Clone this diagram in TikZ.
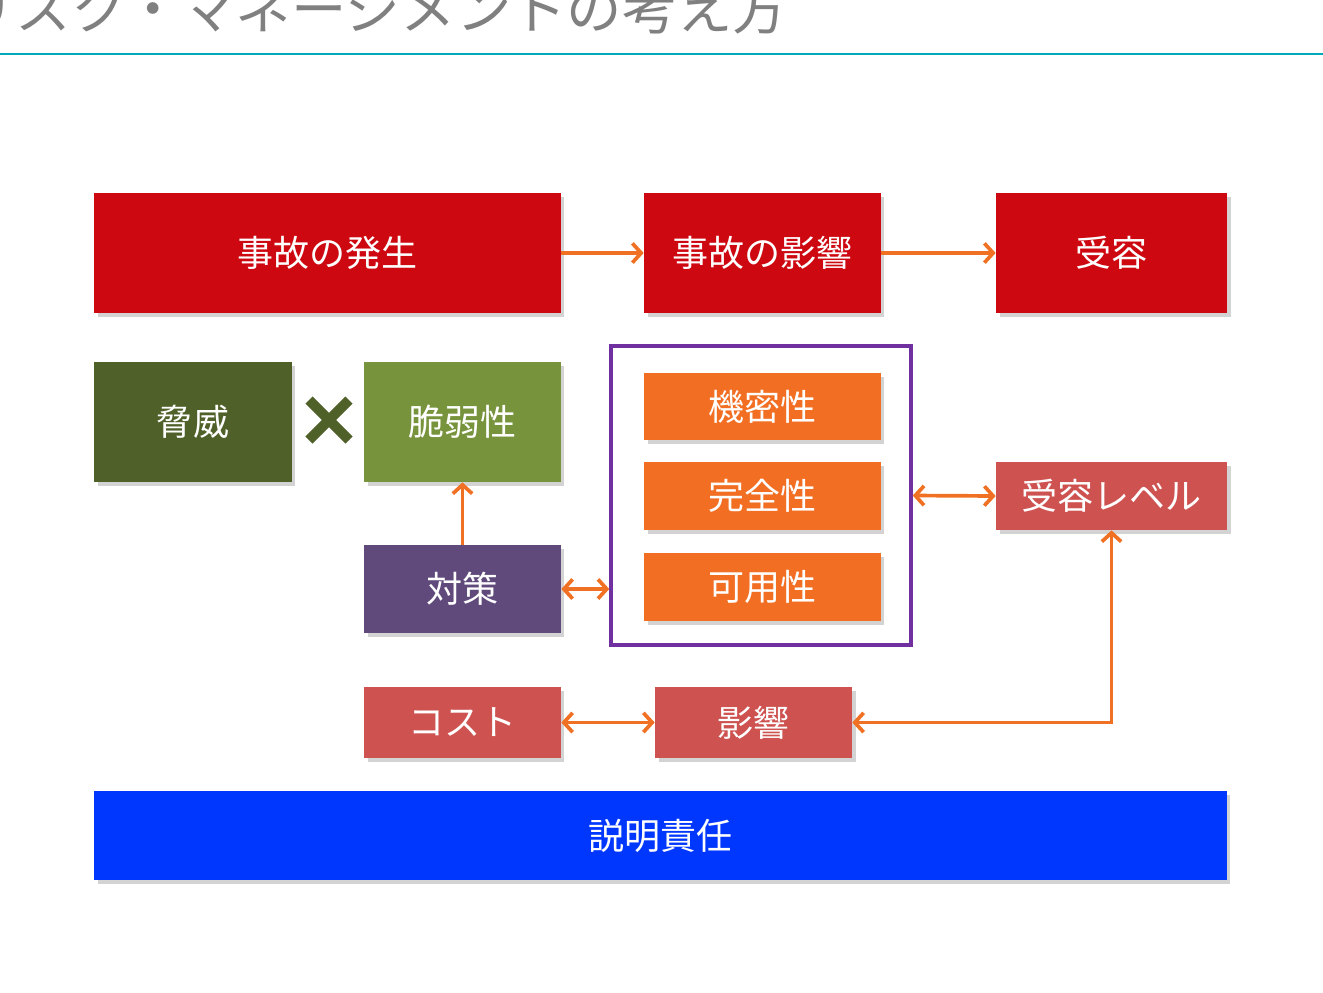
\documentclass[tikz,border=0pt]{standalone}
\usepackage{fontspec}
\setmainfont{Noto Sans CJK JP}
\usetikzlibrary{arrows.meta,shadows}

\definecolor{jikored}{HTML}{CE0810}
\definecolor{kyouiolive}{HTML}{4F6128}
\definecolor{zeijakugreen}{HTML}{77933C}
\definecolor{taisakupurple}{HTML}{604A7B}
\definecolor{ciaorange}{HTML}{F26E22}
\definecolor{levelred}{HTML}{CD5250}
\definecolor{setsumeiblue}{HTML}{0037FF}
\definecolor{framepurple}{HTML}{7030A0}
\definecolor{titleteal}{HTML}{00A9B8}
\definecolor{arroworange}{HTML}{F07024}

\tikzset{
  blk/.style={rectangle, inner sep=0pt, text=white, font=\fontsize{20.5pt}{24pt}\selectfont,
    drop shadow={shadow xshift=2pt, shadow yshift=-2pt, opacity=0.35}},
  conn/.style={draw=arroworange, line width=2.1pt, -{Straight Barb[length=5pt,width=11pt]}},
  connboth/.style={conn, {Straight Barb[length=5pt,width=11pt]}-{Straight Barb[length=5pt,width=11pt]}}
}

\begin{document}
\begin{tikzpicture}[x=0.02cm,y=-0.02cm]
\useasboundingbox (0,0) rectangle (1323,992);
\begin{scope}
\clip (0,0) rectangle (1323,992);
\node[anchor=base west, inner sep=0pt, text=gray, font=\fontsize{31.5pt}{34pt}\selectfont] (title) at (-40,29) {リスク・マネージメントの考え方};
\end{scope}
\draw[titleteal, line width=1.2pt] (0,54) -- (1323,54);

% top row
\node[blk, fill=jikored, minimum width=9.34cm, minimum height=2.4cm] (hassei) at (327.5,253) {事故の発生};
\node[blk, fill=jikored, minimum width=4.74cm, minimum height=2.4cm] (eikyou) at (762.5,253) {事故の影響};
\node[blk, fill=jikored, minimum width=4.62cm, minimum height=2.4cm] (juyou) at (1111.5,253) {受容};
\draw[conn] (hassei) -- (eikyou);
\draw[conn] (eikyou) -- (juyou);

% threat x vulnerability
\node[blk, fill=kyouiolive, minimum width=3.96cm, minimum height=2.4cm] (kyoui) at (193,422) {脅威};
\node[blk, fill=zeijakugreen, minimum width=3.94cm, minimum height=2.4cm] (zeijaku) at (462.5,422) {脆弱性};
\draw[kyouiolive, line width=0.2cm, drop shadow={shadow xshift=2pt, shadow yshift=-2pt, opacity=0.35}] (309,400) -- (349,440) (349,400) -- (309,440);
\node[blk, fill=taisakupurple, minimum width=3.94cm, minimum height=1.76cm] (taisaku) at (462.5,589) {対策};
\draw[conn] (taisaku) -- (zeijaku);

% CIA
\node[draw=framepurple, line width=2pt, minimum width=6cm, minimum height=5.98cm] (cia) at (761,495.5) {};
\node[blk, fill=ciaorange, minimum width=4.74cm, minimum height=1.34cm] (kimitsu) at (762.5,406.5) {機密性};
\node[blk, fill=ciaorange, minimum width=4.74cm, minimum height=1.36cm] (kanzen) at (762.5,496) {完全性};
\node[blk, fill=ciaorange, minimum width=4.74cm, minimum height=1.36cm] (kayou) at (762.5,587) {可用性};
\draw[connboth] (taisaku.east) -- (taisaku.east -| cia.west);

\node[blk, fill=levelred, minimum width=4.62cm, minimum height=1.36cm] (level) at (1111.5,496) {受容レベル};
\draw[connboth] (cia.east) -- (level.west);

% cost and impact
\node[blk, fill=levelred, minimum width=3.94cm, minimum height=1.42cm] (cost) at (462.5,722.5) {コスト};
\node[blk, fill=levelred, minimum width=3.94cm, minimum height=1.42cm] (impact) at (753.5,722.5) {影響};
\draw[connboth] (cost) -- (impact);
\draw[connboth] (level.south) |- (impact.east);

\node[blk, fill=setsumeiblue, minimum width=22.66cm, minimum height=1.78cm] (setsumei) at (660.5,835.5) {説明責任};
\end{tikzpicture}
\end{document}
